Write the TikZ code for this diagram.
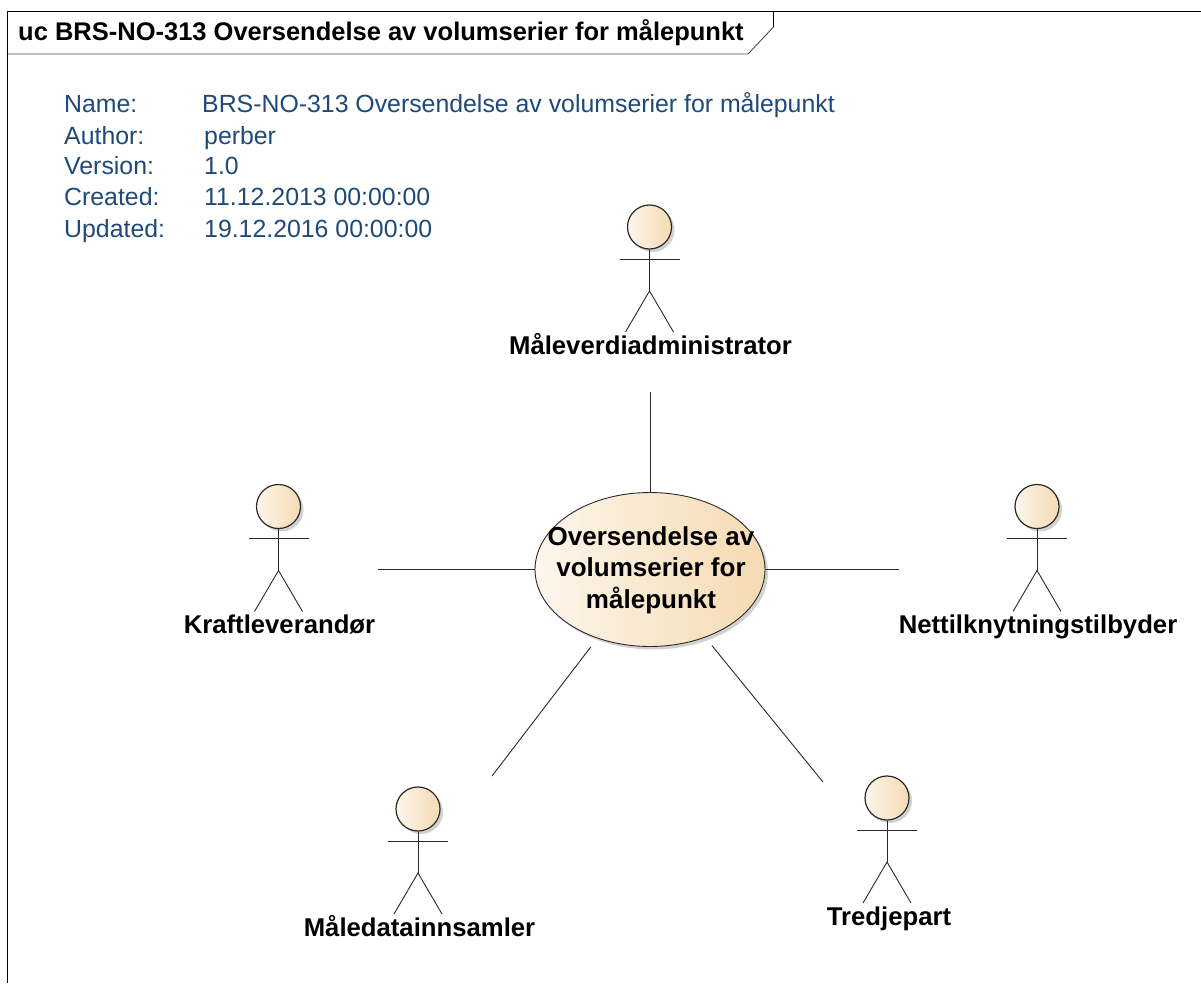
\documentclass[tikz,border=0pt]{standalone}
\usepackage{fontspec}
\setmainfont{Liberation Sans}
\usetikzlibrary{shadows,shapes.geometric}
\definecolor{infoblue}{HTML}{1F4A78}
\definecolor{ucdark}{HTML}{F5DAB2}
\definecolor{uclight}{HTML}{FDF6EC}
\definecolor{linec}{HTML}{2A2A2A}
\tikzset{
  wire/.style={draw=linec,line width=0.9pt},
  frameline/.style={draw=black,line width=1pt},
  softshadow/.style={drop shadow={shadow xshift=3pt,shadow yshift=-3pt,fill=black,opacity=0.18}},
  headshape/.style={circle,draw=linec,line width=1.2pt,minimum size=44pt,inner sep=0pt,left color=uclight,right color=ucdark,softshadow},
  ucshape/.style={ellipse,draw=linec,line width=0.9pt,minimum width=230pt,minimum height=154pt,inner sep=0pt,left color=uclight,right color=ucdark,softshadow},
  actorlabel/.style={font=\bfseries\fontsize{25.7}{28}\selectfont,text=black,inner sep=0pt,anchor=base},
  uctext/.style={font=\bfseries\fontsize{26}{31.5}\selectfont,text=black,align=center,inner sep=0pt},
  infotext/.style={font=\fontsize{24.85}{28}\selectfont,text=infoblue,anchor=base west,inner sep=0pt},
  titletext/.style={font=\bfseries\fontsize{25.5}{28}\selectfont,text=black,anchor=base west,inner sep=0pt}
}
% #1 name, #2 x, #3 head centre y, #4 label text, #5 label x, #6 label baseline y
\newcommand{\stickactor}[6]{%
  \node[headshape] (#1head) at (#2,#3) {};
  \coordinate (#1armL) at (#2-30,#3+32);
  \coordinate (#1armR) at (#2+30,#3+32);
  \coordinate (#1hip) at (#2,#3+64);
  \coordinate (#1legL) at (#2-24,#3+105);
  \coordinate (#1legR) at (#2+24,#3+105);
  \draw[wire] (#1head.south) -- (#1hip);
  \draw[wire] (#1armL) -- (#1armR);
  \draw[wire] (#1legL) -- (#1hip) -- (#1legR);
  \node[actorlabel] (#1label) at (#5,#6) {#4};
}
\begin{document}
\begin{tikzpicture}[x=1pt,y=-1pt]
\useasboundingbox[fill=white] (0,0) rectangle (1201,983);
% frame
\coordinate (frTL) at (7.5,11.5);
\coordinate (frTR) at (1201,11.5);
\coordinate (frBL) at (7.5,983);
\coordinate (tabTop) at (773.5,11.5);
\coordinate (tabMid) at (773.5,27);
\coordinate (tabBot) at (748,54);
\coordinate (tabLeft) at (7.5,54);
\draw[frameline] (frBL) -- (frTL) -- (frTR);
\draw[frameline] (tabTop) -- (tabMid);
\draw[wire,draw=black!70] (tabMid) -- (tabBot) -- (tabLeft);
\node[titletext] (title) at (18,40.5) {uc BRS-NO-313 Oversendelse av volumserier for målepunkt};
% info block
\node[infotext] (i1a) at (64,112.5) {Name:};
\node[infotext] (i1b) at (202,112.5) {BRS-NO-313 Oversendelse av volumserier for målepunkt};
\node[infotext] (i2a) at (64,144.5) {Author:};
\node[infotext] (i2b) at (204,144.5) {perber};
\node[infotext] (i3a) at (64,174.5) {Version:};
\node[infotext] (i3b) at (204,174.5) {1.0};
\node[infotext] (i4a) at (64,205.5) {Created:};
\node[infotext] (i4b) at (204,205.5) {11.12.2013 00:00:00};
\node[infotext] (i5a) at (64,237.5) {Updated:};
\node[infotext] (i5b) at (204,237.5) {19.12.2016 00:00:00};
% actors
\stickactor{adm}{649.5}{227}{Måleverdiadministrator}{650.5}{354}
\stickactor{kraft}{278.5}{506.5}{Kraftleverandør}{279.5}{633}
\stickactor{nett}{1037}{506.5}{Nettilknytningstilbyder}{1038}{633}
\stickactor{maal}{418}{809}{Måledatainnsamler}{419.5}{936}
\stickactor{tred}{887}{798}{Tredjepart}{889}{925}
% use case
\node[ucshape] (uc) at (650,569.5) {};
\node[uctext] (uclabel) at (651,570) {Oversendelse av\\volumserier for\\målepunkt};
% connector free ends
\coordinate (endAdm) at (650,392);
\coordinate (endKraft) at (378,569.5);
\coordinate (endNett) at (899,569.5);
\coordinate (endMaal) at (492,776);
\coordinate (endTred) at (823,782);
\draw[wire] (uc) -- (endAdm);
\draw[wire] (uc) -- (endKraft);
\draw[wire] (uc) -- (endNett);
\draw[wire,shorten <=10.7pt] (uc) -- (endMaal);
\draw[wire,shorten <=10.4pt] (uc) -- (endTred);
\end{tikzpicture}
\end{document}
